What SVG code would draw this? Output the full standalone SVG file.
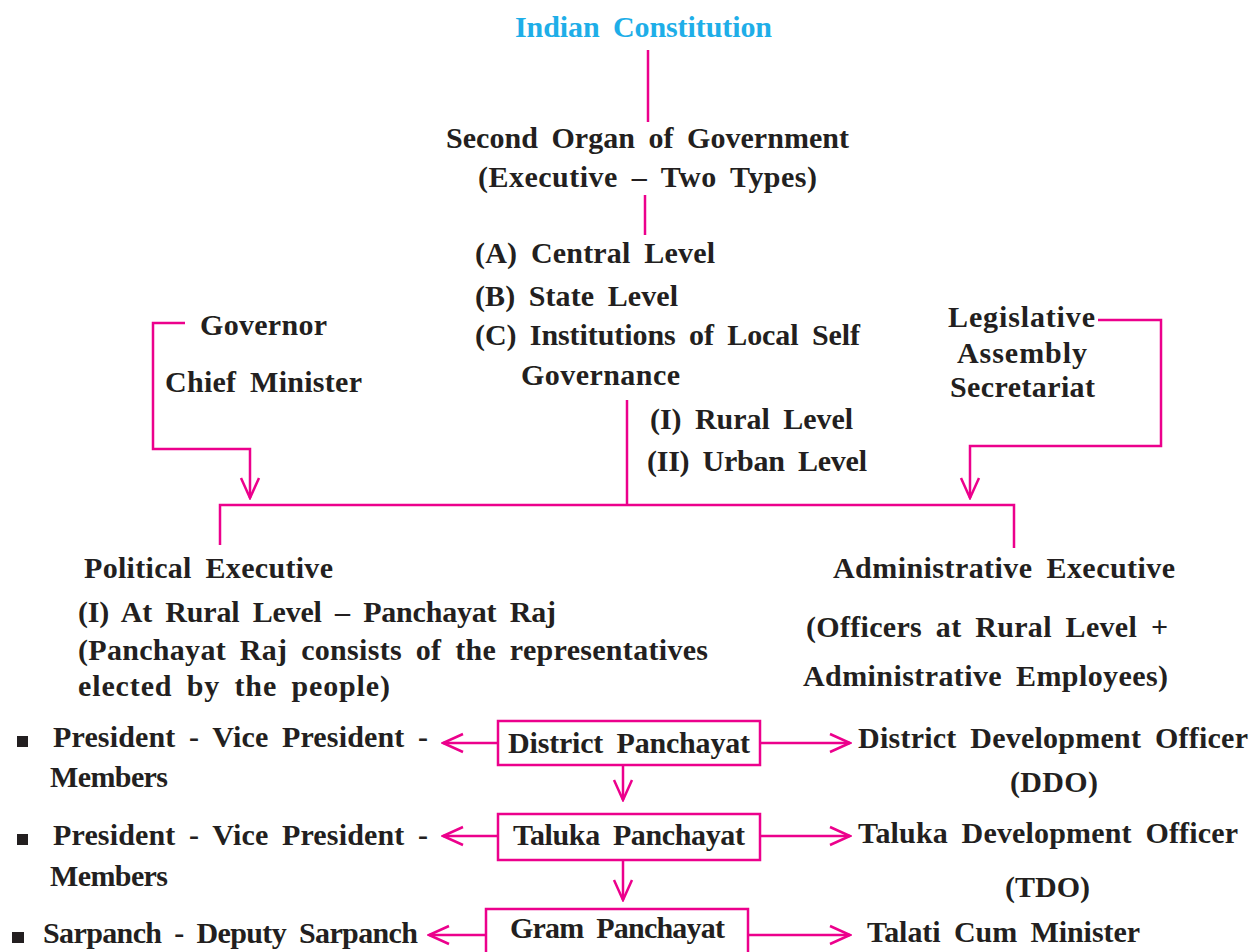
<svg xmlns="http://www.w3.org/2000/svg" width="1255" height="952" viewBox="0 0 1255 952">
<style>
text{font-family:"Liberation Serif","Times New Roman",serif;font-weight:bold;font-size:30px;fill:#231f20;word-spacing:6px}
.title{fill:#1eaee8;font-size:30px}
.ln{fill:none;stroke:#ec008c;stroke-width:2.5}
.arr{fill:none;stroke:#ec008c;stroke-width:2.5;marker-end:url(#v)}
.box{fill:#fff;stroke:#ec008c;stroke-width:2.5}
</style>
<defs>
<marker id="v" viewBox="-23 -12 25 24" refX="0" refY="0" markerWidth="25" markerHeight="24" markerUnits="userSpaceOnUse" orient="auto">
<path d="M-20,-9 L0,0 L-20,9" fill="none" stroke="#ec008c" stroke-width="2.5"/>
</marker>
</defs>
<rect width="1255" height="952" fill="#fff"/>
<g id="connectors">
<line class="ln" x1="648" y1="50" x2="648" y2="122"/>
<line class="ln" x1="645" y1="195" x2="645" y2="235"/>
<polyline class="arr" points="185,323 153,323 153,449 250,449 250,498"/>
<polyline class="arr" points="1098,320 1161,320 1161,446 970,446 970,498"/>
<line class="ln" x1="627" y1="400" x2="627" y2="505"/>
<polyline class="ln" points="220,545 220,505 1014,505 1014,548"/>
<line class="arr" x1="498" y1="743" x2="443" y2="743"/>
<line class="arr" x1="760" y1="743" x2="850" y2="743"/>
<line class="arr" x1="623" y1="765" x2="623" y2="800"/>
<line class="arr" x1="498" y1="836" x2="443" y2="836"/>
<line class="arr" x1="760" y1="836" x2="850" y2="836"/>
<line class="arr" x1="623" y1="860" x2="623" y2="900"/>
<line class="arr" x1="486" y1="935" x2="429" y2="935"/>
<line class="arr" x1="748" y1="935" x2="850" y2="935"/>
</g>
<g id="indian-constitution"><text class="title" x="515" y="37" textLength="257">Indian Constitution</text></g>
<g id="second-organ">
<text x="446" y="148" textLength="403">Second Organ of Government</text>
<text x="478" y="187" textLength="339">(Executive – Two Types)</text>
</g>
<g id="levels">
<text x="475" y="263" textLength="240">(A) Central Level</text>
<text x="475" y="306" textLength="203">(B) State Level</text>
<text x="475" y="345" textLength="385">(C) Institutions of Local Self</text>
<text x="521" y="385" textLength="159">Governance</text>
</g>
<g id="local-levels">
<text x="650" y="429" textLength="203">(I) Rural Level</text>
<text x="647" y="471" textLength="220">(II) Urban Level</text>
</g>
<g id="governor">
<text x="200" y="335" textLength="127">Governor</text>
<text x="165" y="392" textLength="197">Chief Minister</text>
</g>
<g id="legislative">
<text x="948" y="327" textLength="147">Legislative</text>
<text x="957" y="363" textLength="130">Assembly</text>
<text x="950" y="397" textLength="145">Secretariat</text>
</g>
<g id="political-executive">
<text x="84" y="578" textLength="249">Political Executive</text>
<text x="78" y="622" textLength="478">(I) At Rural Level – Panchayat Raj</text>
<text x="78" y="660" textLength="630">(Panchayat Raj consists of the representatives</text>
<text x="78" y="696" textLength="312">elected by the people)</text>
</g>
<g id="administrative-executive">
<text x="833" y="578" textLength="342">Administrative Executive</text>
<text x="806" y="637" textLength="362">(Officers at Rural Level +</text>
<text x="803" y="686" textLength="365">Administrative Employees)</text>
</g>
<g id="district-panchayat">
<rect class="box" x="498" y="721" width="262" height="44"/>
<text x="508" y="753" textLength="242">District Panchayat</text>
</g>
<g id="taluka-panchayat">
<rect class="box" x="498" y="814" width="262" height="46"/>
<text x="513" y="845" textLength="232">Taluka Panchayat</text>
</g>
<g id="gram-panchayat">
<rect class="box" x="486" y="909" width="262" height="60"/>
<text x="510" y="938" textLength="215">Gram Panchayat</text>
</g>
<g id="district-members">
<rect x="17" y="736" width="11" height="11" fill="#231f20"/>
<text x="53" y="747" textLength="375">President - Vice President -</text>
<text x="50" y="787" textLength="118">Members</text>
</g>
<g id="taluka-members">
<rect x="17" y="834" width="11" height="11" fill="#231f20"/>
<text x="53" y="845" textLength="375">President - Vice President -</text>
<text x="50" y="886" textLength="118">Members</text>
</g>
<g id="gram-members">
<rect x="12" y="932" width="12" height="11" fill="#231f20"/>
<text x="43" y="943" textLength="375">Sarpanch - Deputy Sarpanch</text>
</g>
<g id="ddo">
<text x="858" y="748" textLength="390">District Development Officer</text>
<text x="1010" y="792" textLength="88">(DDO)</text>
</g>
<g id="tdo">
<text x="858" y="843" textLength="380">Taluka Development Officer</text>
<text x="1005" y="897" textLength="85">(TDO)</text>
</g>
<g id="talati">
<text x="867" y="942" textLength="273">Talati Cum Minister</text>
</g>
</svg>
